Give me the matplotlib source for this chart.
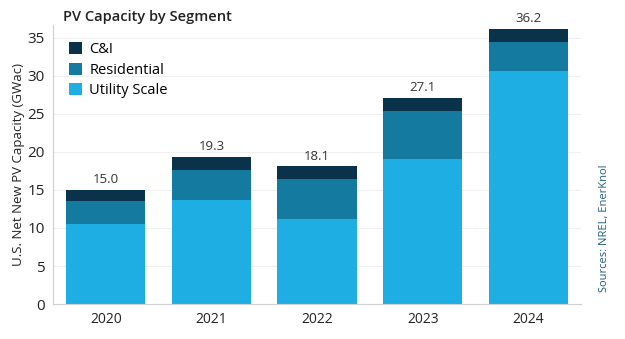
import numpy as np
import matplotlib.pyplot as plt

plt.rcParams['font.family'] = ['Open Sans', 'DejaVu Sans']

years = ['2020', '2021', '2022', '2023', '2024']
utility = [10.5, 13.7, 11.2, 19.1, 30.7]
residential = [3.0, 3.9, 5.2, 6.3, 3.8]
c_and_i = [1.5, 1.7, 1.7, 1.7, 1.7]
totals = [15.0, 19.3, 18.1, 27.1, 36.2]

col_util = '#1eaee4'
col_res = '#157aa0'
col_ci = '#0b324b'

fig = plt.figure(figsize=(6.25, 3.39), dpi=100)
ax = fig.add_axes([0.0848, 0.1032, 0.845, 0.823])

x = np.arange(len(years))
w = 0.75
util = np.array(utility)
res = np.array(residential)
ci = np.array(c_and_i)

ax.bar(x, util, w, color=col_util, label='Utility Scale', zorder=2)
ax.bar(x, res, w, bottom=util, color=col_res, label='Residential', zorder=2)
ax.bar(x, ci, w, bottom=util + res, color=col_ci, label='C&I', zorder=2)

for xi, t in zip(x, totals):
    ax.text(xi, t + 0.5, f'{t:.1f}', ha='center', va='bottom', fontsize=9.5, color='#333333')

ax.set_xlim(-0.5, 4.5)
ax.set_ylim(0, 36.7)
ax.set_yticks(range(0, 36, 5))
ax.set_xticks(x)
ax.set_xticklabels(years)
ax.tick_params(axis='both', length=0, colors='#222222')
ax.tick_params(axis='y', pad=6, labelsize=11)
ax.tick_params(axis='x', pad=6, labelsize=10)
ax.yaxis.grid(True, color='#f0f0f0', linewidth=0.8, zorder=0)
for s in ['top', 'right']:
    ax.spines[s].set_visible(False)
ax.spines['left'].set_color('#d0d0d0')
ax.spines['bottom'].set_color('#d0d0d0')

ax.set_ylabel('U.S. Net New PV Capacity (GWac)', fontsize=9.5, color='#222222', labelpad=2)

handles, labels = ax.get_legend_handles_labels()
ax.legend(handles[::-1], labels[::-1], loc='upper left', bbox_to_anchor=(0.005, 0.985),
          frameon=False, fontsize=10.5, handlelength=0.9, handleheight=0.9,
          handletextpad=0.5, labelspacing=0.35)

fig.text(0.101, 0.95, 'PV Capacity by Segment', fontsize=10.5, fontweight='semibold',
         color='#222222', va='center', ha='left')
fig.text(0.968, 0.515, 'Sources: NREL, EnerKnol', rotation=90, fontsize=8,
         color='#1f5f80', ha='center', va='top')

fig.savefig('out.png', dpi=100)
